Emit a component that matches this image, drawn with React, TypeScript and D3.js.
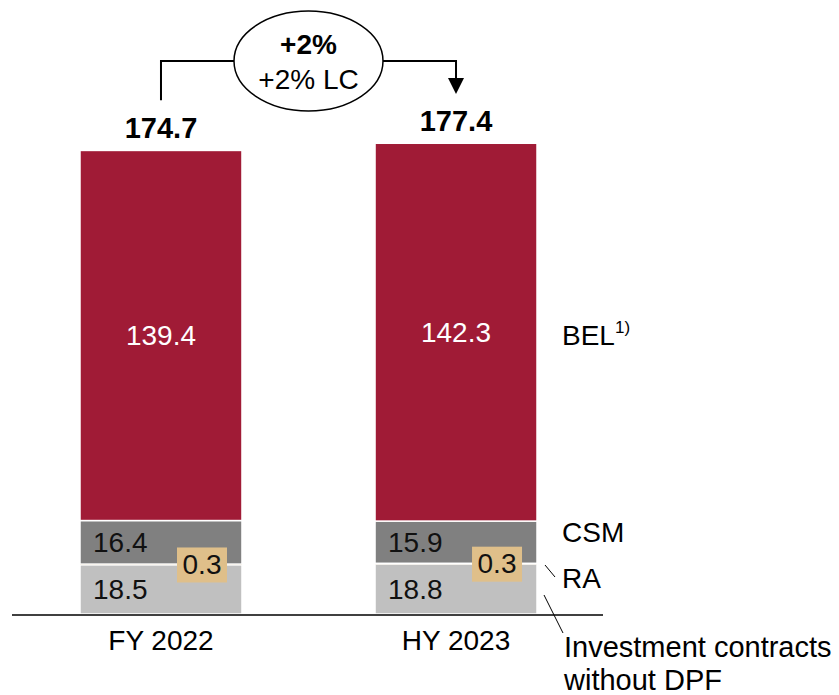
import React from "react";
import * as d3 from "d3";

const categories = ["FY 2022", "HY 2023"];
const investment = [18.5, 18.8];
const ra = [0.3, 0.3];
const csm = [16.4, 15.9];
const bel = [139.4, 142.3];
const totals = [174.7, 177.4];
const seriesNames = ["Investment contracts without DPF", "RA", "CSM", "BEL"];
const changeMain = "+2%";
const changeLC = "+2% LC";

const W = 839;
const H = 695;
const FONT = "Liberation Sans, Arial, sans-serif";

export default function App() {
  const x = d3.scaleBand<string>().domain(categories).range([80, 537]).paddingInner(0.451).paddingOuter(0);
  const y = d3.scaleLinear().domain([0, 177.4]).range([614, 143]);
  const bw = x.bandwidth();
  const colors = ["#C0C0C0", "#D9B882", "#808080", "#A01B36"];

  const rows = categories.map((c, i) => ({
    cat: c,
    inv: investment[i],
    ra: ra[i],
    csm: csm[i],
    bel: bel[i],
  }));
  const stack = d3.stack<any>().keys(["inv", "ra", "csm", "bel"]);
  const stacked = stack(rows);

  const x1 = (x(categories[0]) as number) + bw / 2;
  const x2 = (x(categories[1]) as number) + bw / 2;
  const ecx = (x1 + x2) / 2;
  const ecy = 61;

  return (
    <svg width={W} height={H} style={{ position: "absolute", left: 0, top: 0, background: "#fff" }} fontFamily={FONT}>
      {stacked.map((s, si) =>
        s.map((d, i) => (
          <rect
            key={`${si}-${i}`}
            x={x(categories[i])}
            y={y(d[1])}
            width={bw}
            height={y(d[0]) - y(d[1])}
            fill={colors[si]}
            stroke={si === 1 ? "none" : "#fff"}
            strokeWidth={si === 1 ? 0 : 1.5}
          />
        ))
      )}
      {/* baseline */}
      <line x1={12} x2={603} y1={615} y2={615} stroke="#000" strokeWidth={1.5} />

      {categories.map((c, i) => {
        const bx = x(c) as number;
        const cx = bx + bw / 2;
        const invMid = (y(0) + y(investment[i])) / 2;
        const csmBase = investment[i] + ra[i];
        const csmMid = (y(csmBase) + y(csmBase + csm[i])) / 2;
        const belBase = csmBase + csm[i];
        const belMid = (y(belBase) + y(belBase + bel[i])) / 2;
        const raY = y(investment[i] + ra[i] / 2);
        return (
          <g key={c}>
            <text x={bx + 13} y={invMid} dy="0.35em" fontSize={28} fill="#111">
              {investment[i].toFixed(1)}
            </text>
            <text x={bx + 13} y={csmMid} dy="0.35em" fontSize={28} fill="#111">
              {csm[i].toFixed(1)}
            </text>
            <text x={cx} y={belMid} dy="0.35em" fontSize={28} fill="#fff" textAnchor="middle">
              {bel[i].toFixed(1)}
            </text>
            <rect x={bx + 97} y={raY - 17} width={50} height={35} fill="#DFBF8A" />
            <text x={bx + 122} y={raY} dy="0.35em" fontSize={28} fill="#111" textAnchor="middle">
              {ra[i].toFixed(1)}
            </text>
            <text x={cx} y={y(totals[i]) - 12} fontSize={29} fontWeight="bold" textAnchor="middle" fill="#000">
              {totals[i].toFixed(1)}
            </text>
            <text x={cx} y={650} fontSize={28} textAnchor="middle" fill="#000">
              {c}
            </text>
          </g>
        );
      })}

      {/* connector */}
      <path d={`M${x1},${y(totals[0]) - 50} V${ecy} H${ecx - 74}`} fill="none" stroke="#000" strokeWidth={2} />
      <path d={`M${ecx + 74},${ecy} H${x2} V${79}`} fill="none" stroke="#000" strokeWidth={2} />
      <path d={`M${x2 - 8},${78} L${x2 + 8},${78} L${x2},${94} Z`} fill="#000" />
      <ellipse cx={ecx} cy={ecy} rx={74.5} ry={50} fill="#fff" stroke="#000" strokeWidth={1.5} />
      <text x={ecx} y={54} fontSize={28} fontWeight="bold" textAnchor="middle">{changeMain}</text>
      <text x={ecx} y={89} fontSize={28} textAnchor="middle">{changeLC}</text>

      {/* series labels */}
      <text x={562} y={y(totals[1] - bel[1] / 2) + 3} dy="0.35em" fontSize={28}>
        BEL<tspan fontSize={17} dy="-12">1)</tspan>
      </text>
      <text x={562} y={532} dy="0.35em" fontSize={28}>{seriesNames[2]}</text>
      <text x={562} y={578} dy="0.35em" fontSize={28}>{seriesNames[1]}</text>
      <line x1={545} y1={565} x2={555} y2={577} stroke="#000" strokeWidth={1} />
      <line x1={544} y1={595} x2={563} y2={633} stroke="#000" strokeWidth={1} />
      <text x={564} y={657} fontSize={29}>Investment contracts</text>
      <text x={564} y={690} fontSize={29}>without DPF</text>
    </svg>
  );
}
